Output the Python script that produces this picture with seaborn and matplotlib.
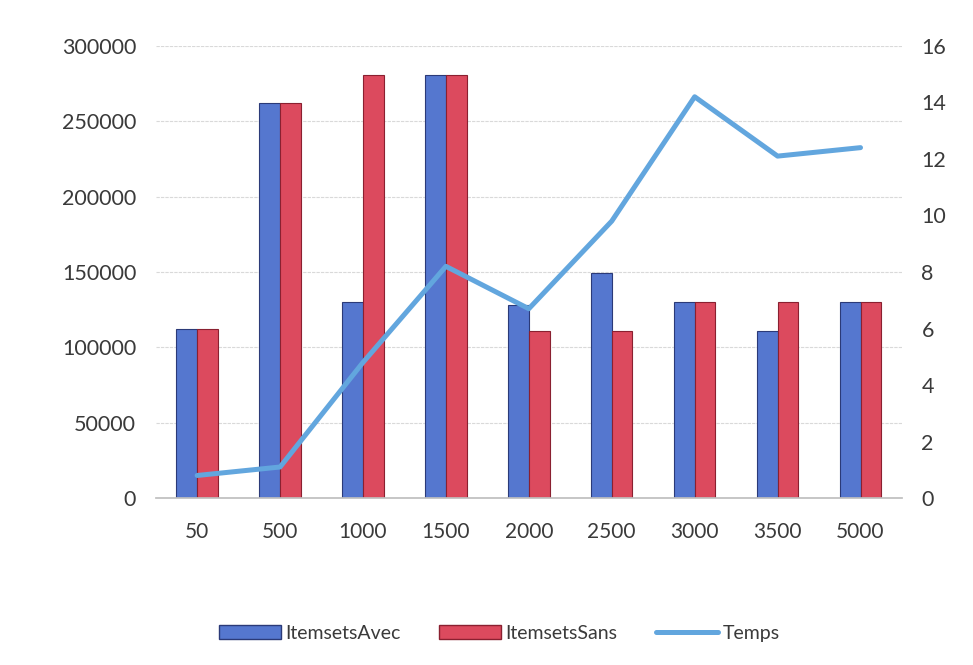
import matplotlib
matplotlib.use("Agg")
import matplotlib.pyplot as plt
import seaborn as sns
import pandas as pd
from matplotlib.lines import Line2D
from matplotlib.patches import Patch

categories = ["50", "500", "1000", "1500", "2000", "2500", "3000", "3500", "5000"]
itemsets_avec = [112000, 262000, 130000, 281000, 128000, 149000, 130000, 111000, 130000]
itemsets_sans = [112000, 262000, 281000, 281000, 111000, 111000, 130000, 130000, 130000]
temps = [0.8, 1.1, 4.8, 8.2, 6.7, 9.8, 14.2, 12.1, 12.4]

sns.set_theme(style="white")
plt.rcParams["font.family"] = ["Lato", "DejaVu Sans"]

df = pd.DataFrame({"x": categories, "ItemsetsAvec": itemsets_avec, "ItemsetsSans": itemsets_sans})
bars_df = df.melt(id_vars="x", var_name="serie", value_name="val")

blue = "#5577cf"
red = "#dc4a5e"
line_col = "#62a6de"
txt = "#3a3a3a"

fig = plt.figure(figsize=(9.73, 6.65), dpi=100)
ax = fig.add_axes([0.16, 0.251, 0.767, 0.68])

sns.barplot(data=bars_df, x="x", y="val", hue="serie", order=categories,
            palette=[blue, red], width=0.5, saturation=1, ax=ax, legend=False)
for i, p in enumerate(ax.patches):
    p.set_edgecolor("#2b3a78" if i < len(categories) else "#8a2030")
    p.set_linewidth(0.8)

ax.set_ylim(0, 300000)
ax.set_yticks(range(0, 300001, 50000))
ax.yaxis.grid(True, color="#d9d9d9", linewidth=0.8, linestyle=(0, (3, 1)))
ax.set_axisbelow(True)
for s in ["left", "right", "top"]:
    ax.spines[s].set_visible(False)
ax.spines["bottom"].set_color("#bfbfbf")
ax.tick_params(axis="y", length=0, labelsize=15.5, colors=txt, pad=14)
ax.tick_params(axis="x", length=0, labelsize=15, colors=txt, pad=17)
ax.set_xlabel("")
ax.set_ylabel("")

ax2 = ax.twinx()
sns.lineplot(x=list(range(len(categories))), y=temps, color=line_col, linewidth=3.6, ax=ax2)
ax2.set_ylim(0, 16)
ax2.set_yticks(range(0, 17, 2))
ax.set_xlim(-0.5, len(categories) - 0.5)
for s in ["left", "right", "top", "bottom"]:
    ax2.spines[s].set_visible(False)
ax2.tick_params(axis="y", length=0, labelsize=15.5, colors=txt, pad=14)
ax2.set_ylabel("")

handles = [Patch(facecolor=blue, edgecolor="#2b3a78"),
           Patch(facecolor=red, edgecolor="#8a2030"),
           Line2D([0], [0], color=line_col, linewidth=3.6)]
fig.legend(handles, ["ItemsetsAvec", "ItemsetsSans", "Temps"], loc="center",
           bbox_to_anchor=(0.513, 0.048), ncol=3, frameon=False, fontsize=14,
           handlelength=3.2, handletextpad=0.2, columnspacing=2.0,
           labelcolor=txt)

fig.savefig("out.png", dpi=100)
